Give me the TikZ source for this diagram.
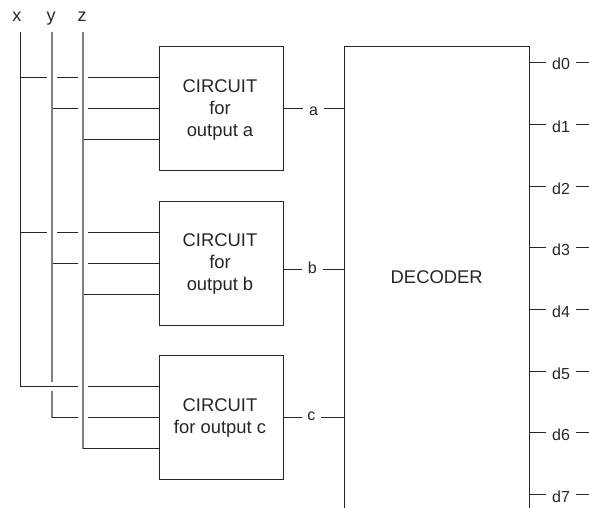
\documentclass[tikz,border=0pt]{standalone}
\usepackage{fontspec}
\setmainfont{Liberation Sans}
\usetikzlibrary{calc}
\definecolor{ink}{HTML}{262626}
\tikzset{
  wire/.style={draw=ink,line width=1.2pt},
  graybus/.style={draw=black!50,line width=2pt},
  boxnode/.style={draw=ink,line width=1.2pt,inner sep=0pt,minimum width=124pt,minimum height=124pt},
  decnode/.style={draw=ink,line width=1.2pt,inner sep=0pt,minimum width=185pt,minimum height=463pt},
  boxtext/.style={inner sep=0pt,align=center,text=ink,font=\fontsize{18.4}{22}\selectfont},
  wlabel/.style={inner sep=0pt,text=ink,text height=15pt,text depth=0pt,font=\fontsize{16}{18}\selectfont},
  inlabel/.style={inner sep=0pt,text=ink,text height=15pt,text depth=0pt,font=\fontsize{18}{18}\selectfont}
}
\begin{document}
\begin{tikzpicture}[x=1pt,y=-1pt]
\useasboundingbox (0,0) rectangle (589,508);
\clip (0,0) rectangle (589,508);
% input labels and bus ends
\node[inlabel] (lx) at (17,14.5) {x};
\node[inlabel] (ly) at (51,14.5) {y};
\node[inlabel] (lz) at (82,14.5) {z};
\coordinate (xt) at (20.5,32);
\coordinate (yt) at (52,32);
\coordinate (zt) at (83,32);
% circuits
\node[boxnode] (ca) at (221.5,108.5) {};
\node[boxnode] (cb) at (221.5,263.5) {};
\node[boxnode] (cc) at (221.5,417.5) {};
\node[boxtext] (ta) at (220,110.2) {CIRCUIT\\for\\output a};
\node[boxtext] (tb) at (220,264) {CIRCUIT\\for\\output b};
\node[boxtext] (tc) at (220,418) {CIRCUIT\\for output c};
\node[decnode] (dec) at (437,278) {};
\node[boxtext] (td) at (436.7,277.5) {DECODER};
% labels on the links
\node[wlabel,minimum width=21pt] (la) at (313.5,108.5) {a};
\node[wlabel,minimum width=20.7pt,text height=7pt] (lb) at (312.3,269.5) {b};
\node[wlabel,minimum width=18.7pt,text height=5.4pt] (lc) at (311.4,417.5) {c};
\foreach \n in {a,b,c}{
  \draw[wire] (l\n.west -| c\n.east) -- (l\n.west);
  \draw[wire] (l\n.east) -- (l\n.east -| dec.west);
}
% outputs
\foreach \i/\yy in {0/62.5,1/124.5,2/186.5,3/247.5,4/309.5,5/371.5,6/432.5,7/494.5}{
  \node[wlabel,minimum width=30pt] (d\i) at (561,\yy) {d\i};
  \coordinate (e\i) at (589,\yy);
  \draw[wire] (d\i.west -| dec.east) -- (d\i.west);
  \draw[wire] (d\i.east) -- (e\i);
}
% bus ends at the bottom
\coordinate (xb) at (20.5,386.5);
\coordinate (yb) at (52,417.5);
\coordinate (zb) at (83,448.5);
% rows: a, b
\foreach \n/\ya/\yb/\yc in {a/77.5/108.5/139.5,b/232.5/263.5/294.5}{
  \coordinate (\n1) at (159.5,\ya);
  \coordinate (\n2) at (159.5,\yb);
  \coordinate (\n3) at (159.5,\yc);
  \draw[wire] (xt |- \n1) -- ($(yt |- \n1)+(-5,0)$);
  \draw[wire] ($(yt |- \n1)+(5,0)$) -- ($(zt |- \n1)+(-5,0)$);
  \draw[wire] ($(zt |- \n1)+(5,0)$) -- (\n1);
  \draw[wire] (yt |- \n2) -- ($(zt |- \n2)+(-5,0)$);
  \draw[wire] ($(zt |- \n2)+(5,0)$) -- (\n2);
  \draw[wire] (zt |- \n3) -- (\n3);
}
% row c with the bus corners
\coordinate (c1) at (159.5,386.5);
\coordinate (c2) at (159.5,417.5);
\coordinate (c3) at (159.5,448.5);
\draw[wire] (xt) -- (xb) -- ($(zt |- c1)+(-5,0)$);
\draw[wire] ($(zt |- c1)+(5,0)$) -- (c1);
\draw[graybus] (yt) -- ($(yt |- xb)+(0,-4.5)$);
\draw[graybus] ($(yt |- xb)+(0,4.5)$) -- (yb);
\draw[wire] (yb) -- ($(zt |- c2)+(-5,0)$);
\draw[wire] ($(zt |- c2)+(5,0)$) -- (c2);
\draw[graybus] (zt) -- (zb);
\draw[wire] (zb) -- (c3);
\end{tikzpicture}
\end{document}
